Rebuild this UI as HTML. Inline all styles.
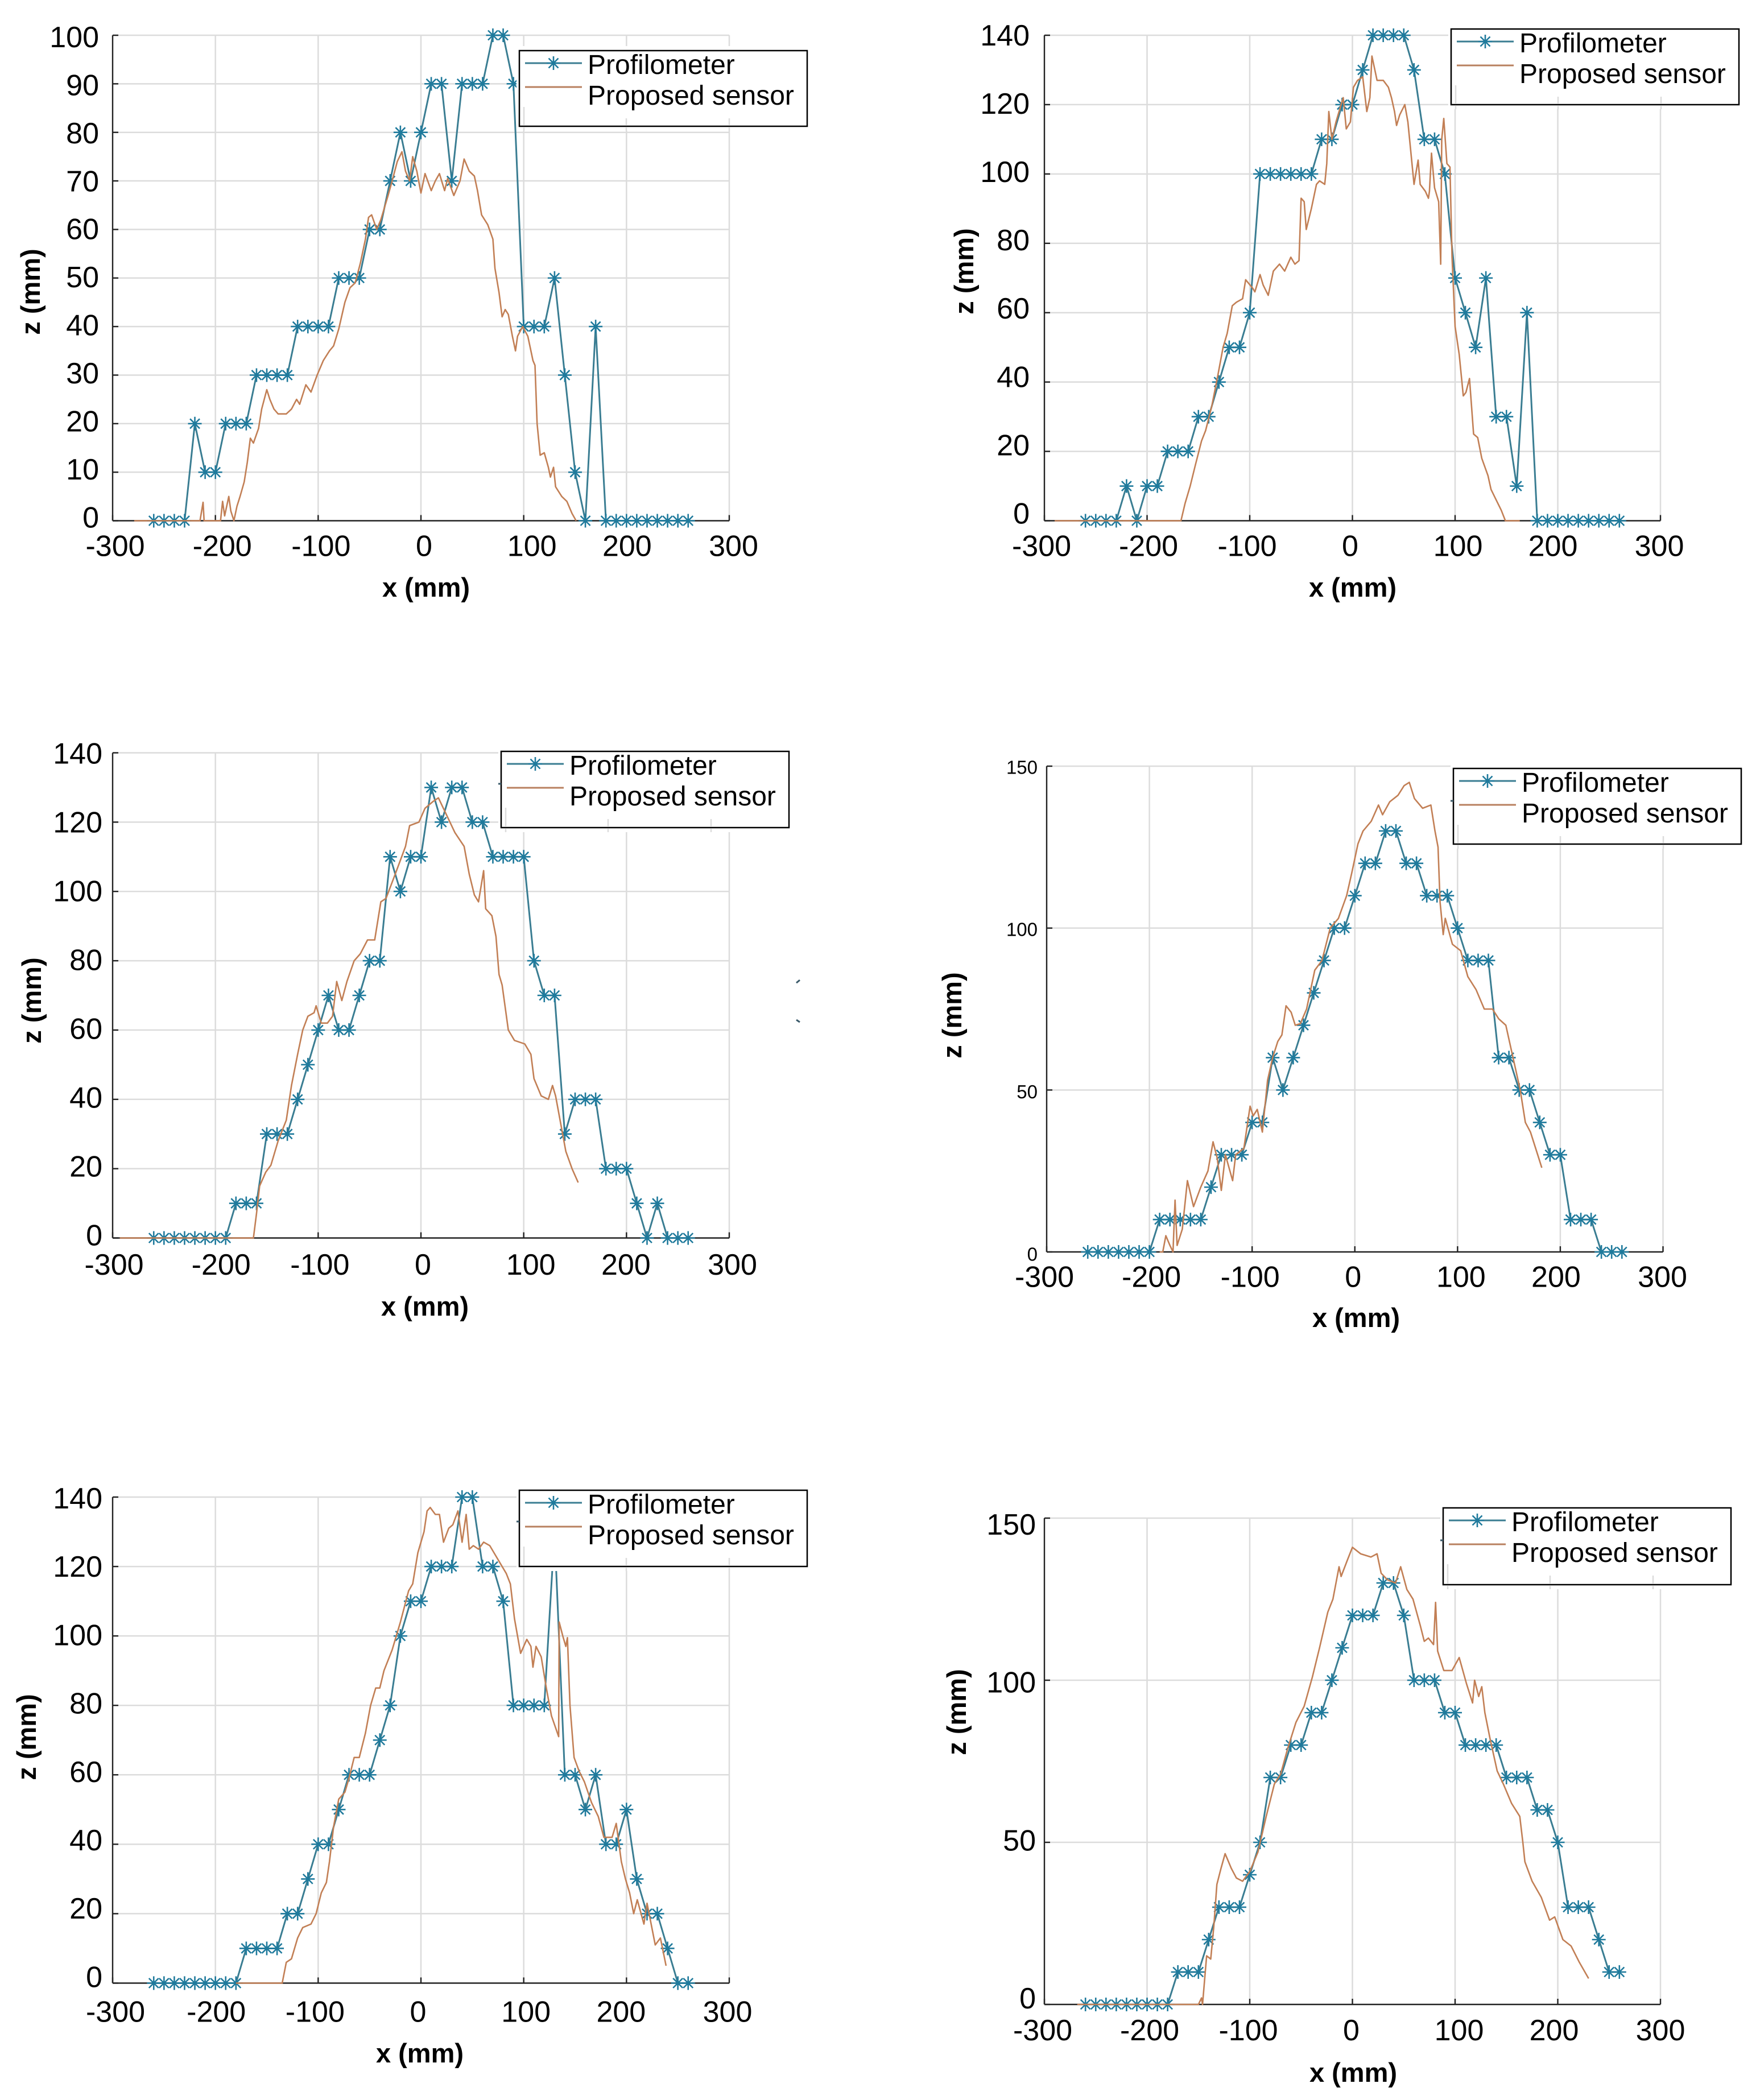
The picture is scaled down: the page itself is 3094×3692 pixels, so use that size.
<!DOCTYPE html>
<html lang="en">
<head>
<meta charset="utf-8">
<title>Profilometer vs proposed sensor height profiles</title>
<style>
html,body{margin:0;padding:0;background:#fff;}
svg{display:block;font-family:"Liberation Sans",sans-serif;}
.axis-title{font-size:47px;font-weight:bold;fill:#000;text-anchor:middle;}
.legend-halo{fill:#fff;stroke:none;}
.legend-box{fill:#fff;stroke:#000;stroke-width:2.5;}
.legend-stub{stroke:#dcdcdc;stroke-width:2.5;fill:none;}
.legend-text{font-size:48px;fill:#000;}
.legend-prof{stroke:#3a7d92;stroke-width:3;fill:none;}
.legend-star{stroke:#1f7a9c;stroke-width:2.6;fill:none;}
.legend-sensor{stroke:#b8805f;stroke-width:3;fill:none;}
.stray-mark{stroke:#3a5a6a;stroke-width:3;fill:none;}
</style>
</head>
<body>
<svg id="figure" xmlns="http://www.w3.org/2000/svg" width="3094" height="3692" viewBox="0 0 3094 3692">
  <rect width="3094" height="3692" fill="#fff"/>

  <g>
    <g id="plot-1"></g>
    <text class="axis-title" x="749" y="1049">x (mm)</text>
    <text class="axis-title" transform="translate(70,513) rotate(-90)">z (mm)</text>
    <g transform="translate(913,89)">
      <rect class="legend-halo" x="-5" y="-8" width="516" height="149"/>
      <rect class="legend-box" width="506" height="133"/>
      <path class="legend-stub" d="M8 99V131.700M188 119V131.700M369 119V131.700M8 134.300V141M188 134.300V141M369 134.300V141"/>
      <path class="legend-prof" d="M10 22H110"/>
      <path class="legend-star" d="M48 22H72M60 10V34M51.500 13.500L68.500 30.500M68.500 13.500L51.500 30.500"/>
      <path class="legend-sensor" d="M10 64H110"/>
      <text class="legend-text" x="120" y="41">Profilometer</text>
      <text class="legend-text" x="120" y="95">Proposed sensor</text>
    </g>
  </g>

  <g>
    <g id="plot-2"></g>
    <text class="axis-title" x="2378" y="1049">x (mm)</text>
    <text class="axis-title" transform="translate(1711,477) rotate(-90)">z (mm)</text>
    <g transform="translate(2551,51)">
      <rect class="legend-halo" x="-5" y="-8" width="516" height="149"/>
      <rect class="legend-box" width="506" height="133"/>
      <path class="legend-stub" d="M8 99V131.700M188 119V131.700M369 119V131.700M8 134.300V141M188 134.300V141M369 134.300V141"/>
      <path class="legend-prof" d="M10 22H110"/>
      <path class="legend-star" d="M48 22H72M60 10V34M51.500 13.500L68.500 30.500M68.500 13.500L51.500 30.500"/>
      <path class="legend-sensor" d="M10 64H110"/>
      <text class="legend-text" x="120" y="41">Profilometer</text>
      <text class="legend-text" x="120" y="95">Proposed sensor</text>
    </g>
  </g>

  <g>
    <g id="plot-3"></g>
    <text class="axis-title" x="747" y="2313">x (mm)</text>
    <text class="axis-title" transform="translate(72,1759) rotate(-90)">z (mm)</text>
    <g transform="translate(881,1321)">
      <rect class="legend-halo" x="-5" y="-8" width="516" height="150"/>
      <rect class="legend-box" width="506" height="134"/>
      <path class="legend-stub" d="M8 99V132.700M188 119V132.700M369 119V132.700M8 135.300V142M188 135.300V142M369 135.300V142"/>
      <path class="stray-mark" d="M-5 57H0"/>
      <path class="legend-prof" d="M10 22H110"/>
      <path class="legend-star" d="M48 22H72M60 10V34M51.500 13.500L68.500 30.500M68.500 13.500L51.500 30.500"/>
      <path class="legend-sensor" d="M10 64H110"/>
      <text class="legend-text" x="120" y="41">Profilometer</text>
      <text class="legend-text" x="120" y="95">Proposed sensor</text>
    </g>
    <path class="stray-mark" d="M1400 1728L1406 1723"/>
    <path class="stray-mark" d="M1400 1793L1406 1797"/>
  </g>

  <g>
    <g id="plot-4"></g>
    <text class="axis-title" x="2384" y="2333">x (mm)</text>
    <text class="axis-title" transform="translate(1690,1785) rotate(-90)">z (mm)</text>
    <g transform="translate(2555,1351)">
      <rect class="legend-halo" x="-5" y="-8" width="516" height="149"/>
      <rect class="legend-box" width="506" height="133"/>
      <path class="legend-stub" d="M8 99V131.700M188 119V131.700M369 119V131.700M8 134.300V141M188 134.300V141M369 134.300V141"/>
      <path class="stray-mark" d="M-5 57H0"/>
      <path class="legend-prof" d="M10 22H110"/>
      <path class="legend-star" d="M48 22H72M60 10V34M51.500 13.500L68.500 30.500M68.500 13.500L51.500 30.500"/>
      <path class="legend-sensor" d="M10 64H110"/>
      <text class="legend-text" x="120" y="41">Profilometer</text>
      <text class="legend-text" x="120" y="95">Proposed sensor</text>
    </g>
  </g>

  <g>
    <g id="plot-5"></g>
    <text class="axis-title" x="738" y="3626">x (mm)</text>
    <text class="axis-title" transform="translate(63,3054) rotate(-90)">z (mm)</text>
    <g transform="translate(913,2620)">
      <rect class="legend-halo" x="-5" y="-8" width="516" height="150"/>
      <rect class="legend-box" width="506" height="134"/>
      <path class="legend-stub" d="M8 99V132.700M188 119V132.700M369 119V132.700M8 135.300V142M188 135.300V142M369 135.300V142"/>
      <path class="stray-mark" d="M-5 55H0"/>
      <path class="legend-prof" d="M10 22H110"/>
      <path class="legend-star" d="M48 22H72M60 10V34M51.500 13.500L68.500 30.500M68.500 13.500L51.500 30.500"/>
      <path class="legend-sensor" d="M10 64H110"/>
      <text class="legend-text" x="120" y="41">Profilometer</text>
      <text class="legend-text" x="120" y="95">Proposed sensor</text>
    </g>
  </g>

  <g>
    <g id="plot-6"></g>
    <text class="axis-title" x="2379" y="3660">x (mm)</text>
    <text class="axis-title" transform="translate(1698,3010) rotate(-90)">z (mm)</text>
    <g transform="translate(2537,2651)">
      <rect class="legend-halo" x="-5" y="-8" width="516" height="151"/>
      <rect class="legend-box" width="506" height="135"/>
      <path class="legend-stub" d="M8 99V133.700M188 119V133.700M369 119V133.700M8 136.300V143M188 136.300V143M369 136.300V143"/>
      <path class="stray-mark" d="M-5 57H0"/>
      <path class="legend-prof" d="M10 22H110"/>
      <path class="legend-star" d="M48 22H72M60 10V34M51.500 13.500L68.500 30.500M68.500 13.500L51.500 30.500"/>
      <path class="legend-sensor" d="M10 64H110"/>
      <text class="legend-text" x="120" y="41">Profilometer</text>
      <text class="legend-text" x="120" y="95">Proposed sensor</text>
    </g>
  </g>
</svg>

<script>
// ---------- data (mm) ----------
const xTickValues = [-300,-200,-100,0,100,200,300];
const xTickLabels = ['-300','-200','-100','0','100','200','300'];
const zTicks100 = [0,10,20,30,40,50,60,70,80,90,100];
const zTicks140 = [0,20,40,60,80,100,120,140];
const zTicks150 = [0,50,100,150];

const profX = [-260,-250,-240,-230,-220,-210,-200,-190,-180,-170,-160,-150,-140,-130,-120,-110,-100,-90,-80,-70,-60,-50,-40,-30,-20,-10,0,10,20,30,40,50,60,70,80,90,100,110,120,130,140,150,160,170,180,190,200,210,220,230,240,250,260];

const prof1 = [0,0,0,0,20,10,10,20,20,20,30,30,30,30,40,40,40,40,50,50,50,60,60,70,80,70,80,90,90,70,90,90,90,100,100,90,40,40,40,50,30,10,0,40,0,0,0,0,0,0,0,0,0];
const prof2 = [0,0,0,0,10,0,10,10,20,20,20,30,30,40,50,50,60,100,100,100,100,100,100,110,110,120,120,130,140,140,140,140,130,110,110,100,70,60,50,70,30,30,10,60,0,0,0,0,0,0,0,0,0];
const prof3 = [0,0,0,0,0,0,0,0,10,10,10,30,30,30,40,50,60,70,60,60,70,80,80,110,100,110,110,130,120,130,130,120,120,110,110,110,110,80,70,70,30,40,40,40,20,20,20,10,0,10,0,0,0];
const prof4 = [0,0,0,0,0,0,0,10,10,10,10,10,20,30,30,30,40,40,60,50,60,70,80,90,100,100,110,120,120,130,130,120,120,110,110,110,100,90,90,90,60,60,50,50,40,30,30,10,10,10,0,0,0];
const prof5 = [0,0,0,0,0,0,0,0,0,10,10,10,10,20,20,30,40,40,50,60,60,60,70,80,100,110,110,120,120,120,140,140,120,120,110,80,80,80,80,130,60,60,50,60,40,40,50,30,20,20,10,0,0];
const prof6 = [0,0,0,0,0,0,0,0,0,10,10,10,20,30,30,30,40,50,70,70,80,80,90,90,100,110,120,120,120,130,130,120,100,100,100,90,90,80,80,80,80,70,70,70,60,60,50,30,30,30,20,10,10];

const sensor1X = [-279,-215,-212,-211,-195,-193,-191,-187,-185,-182,-179,-176,-172,-169,-166,-163,-158,-155,-150,-147,-143,-139,-131,-126,-121,-118,-112,-107,-101,-95,-89,-85,-80,-74,-69,-64,-59,-54,-51,-48,-43,-39,-32,-28,-23,-18.500,-15,-11,-8,-4,0,4,10,14,18,23,26,32,38,42,47,52,55,59,65,70,72,76,79,82,85,89,92,94,99,104,109,111,113,116,120,124,126,129,131,137,142,147,151];
const sensor1Z = [0,0,3.800,0,0,4,1,5,2,0,3,5,8,12,17,16,19,23,27,25,23,22,22,23,25,24,28,26.500,30,33,35,36,39.500,45,48,49,53,58,62.500,63,60,62,67,70,74,76,72,70,75,72,67.500,71.500,68,70,71.500,68,70.500,67,70,74.500,72,71,68,63,61,58,52,47,42,43.500,42.500,38,35,38,40,38,33,32,20,13.500,14,11,9,11,7,5,4,1.500,0];

const sensor2X = [-290,-167,-163,-158,-153,-147,-143,-137,-131,-126,-122,-117,-113,-107,-104,-97,-95,-90,-87,-82,-77,-71,-66,-60,-56,-52,-50,-47,-45,-40,-35,-32,-27,-25,-23,-20,-16,-12,-9,-6,-2,1,5,10,14,17,19,24,30,35,38,41,43,46,51,54,58,60,64,66,71,74,75,77,80,84,86,87,89,92,95,97,100,104,108,110.500,114,118,122,126,132,135,140,145,149,163];
const sensor2Z = [0,0,5,10,16,23,26,33,42,50,54,62,63,64,69.500,67,66,71,68,65,72,74,72,76,74,75,93,92,84,90,97,98,97,103,118,110,115,119,122,113,115,125,127,128,118,122,134,127,127,125,122,118,114,117,120,115,103,97,104,97,95,93,95,106,96,92,74,110,116,103,102,76,56,48,36,37,41,25,24,18,13,9,6,3,0,0];

const sensor3X = [-293,-163,-160,-157,-151,-146,-139,-131,-126,-120,-115,-110,-104,-102,-97,-91,-86,-82,-77,-72,-65,-59,-52,-45,-39,-34,-25,-15,-11,-2,4,12,17,25,33,42,47,52,56,61,63,69,73,76,79,85,91,101,107,110,117,124,128,131,136,141,147,153];
const sensor3Z = [0,0,7,15,19,21,28,34,44,53,60,64,65,67,62,62,64,74,68.500,74,80,82,86,86,97,98,105,113,119,120,124,126,127,122,117,113,105,99,97,106,95,93,87,76,73,60,57,56,53,46,41,40,44,41,33,25,20,16];

const sensor4X = [-190,-187,-184,-180,-177,-175,-173,-168,-163,-157,-150,-143,-138,-134,-130,-126,-119,-116,-108,-102,-99,-95,-90,-85,-80,-75,-71,-67,-62,-58,-53,-47,-39,-32,-24,-16,-8,-3,3,8,16,23,27,34,42,48,53,58,66,74,78,81,83,86,88,95,103,110,118,126,134,140,147,154,161,166,171,178,182];
const sensor4Z = [0,0,5,2,0,16,2,7,22,14,20,25,34,29,19,30,22,30,32,45,42,44,37,53,60,65,67,76,74,70,70.500,75,87,90,100,103,110,117,126,130,133,138,135,139,141,144,145,140,137,138,130,125,108,98,103,95,93,85,81,75,75,72,70,60,50,40,37,30,26];

const sensor5X = [-180,-135,-131,-126,-120,-115,-107,-102,-97,-92,-89,-85,-80,-74,-70,-65,-60,-54,-49,-44,-40,-36,-28,-20,-12,-8,-3,3,6,9,14,18,22,27,31,36,40,44,47,51,56,61,67,75,83,87,91,94,97,103,107,109,112,117,122,127,134,134.500,138,141,142.500,145,149,154,159,166,172.500,178,186,190,195,199,203,207,210.500,217,220,228,233,238.500];
const sensor5Z = [0,0,6,7,13,16,17,20,26,29,35,45,53,55,59,65,65,72,80,85,85,90,96,104,113,115,124,130,136,137,135,135,127,131,132,136,127,135,125,126,125,127,126,122,118,115,105,100,95,99,97,91,97,94,85,77,71,104,100,97,99.500,80,65,61,58,52,48,42,42,46,35,30,26,20,24,17,23,11,13,5];

const sensor6X = [-268,-150,-147,-146,-142,-138,-135,-132,-128,-124,-118,-113,-107,-100,-92,-84,-76,-70,-63,-55,-47,-39,-32,-24,-19,-16,-13,-11,-5,0,8,18,24,28,34,42,47,53,59,66,70,74,79,81,83,89,97,104,111,117,119,123,126,129,134,141,147,155,163,166,168,175,184,192,197,205,213,221,230];
const sensor6Z = [0,0,2,0,15,14,24,37,42,46.500,42,39,38,41,47,58,68,71,79,87,92,101,110,121,125,130,135,132,137,141,139,138,139,133,131,130,135,128,125,117,112,113,111,124,109,103,103,107,99,93,100,95,98,90,82,72,68,62,58,50,44,38,33,26,27,20,18,13,8];

// ---------- layout ----------
const panels = [
  {n:1, left:198,  right:1282, top:62,   bottom:915.5,  zTicks:zTicks100, prof:prof1, sx:sensor1X, sz:sensor1Z, labelDx:9.5, tickLabelDy:62,   zRight:24, zShiftTop:3,  zShiftBottom:-6,  zFont:52, firstLabelExtra:0},
  {n:2, left:1836, right:2919, top:62,   bottom:915.5,  zTicks:zTicks140, prof:prof2, sx:sensor2X, sz:sensor2Z, labelDx:0,   tickLabelDy:62,   zRight:26, zShiftTop:0,  zShiftBottom:-13, zFont:52, firstLabelExtra:0},
  {n:3, left:198,  right:1282, top:1323.5,bottom:2176.5,zTicks:zTicks140, prof:prof3, sx:sensor3X, sz:sensor3Z, labelDx:7.5, tickLabelDy:64.5, zRight:18, zShiftTop:1,  zShiftBottom:-5,  zFont:52, firstLabelExtra:0},
  {n:4, left:1840, right:2923.5,top:1347,bottom:2201,   zTicks:zTicks150, prof:prof4, sx:sensor4X, sz:sensor4Z, labelDx:1,   tickLabelDy:61.5, zRight:16, zShiftTop:2,  zShiftBottom:4,   zFont:33, firstLabelExtra:0},
  {n:5, left:198,  right:1282, top:2632, bottom:3486.5, zTicks:zTicks140, prof:prof5, sx:sensor5X, sz:sensor5Z, labelDx:-1,  tickLabelDy:68,   zRight:18, zShiftTop:2,  zShiftBottom:-11, zFont:52, firstLabelExtra:11},
  {n:6, left:1836, right:2919, top:2669, bottom:3524,   zTicks:zTicks150, prof:prof6, sx:sensor6X, sz:sensor6Z, labelDx:2,   tickLabelDy:63,   zRight:15, zShiftTop:11, zShiftBottom:-11, zFont:52, firstLabelExtra:0}
];
const xLabelNudge = {'-300':-5,'-200':2.5,'-100':-4.5,'0':-4,'100':5,'200':-8.5,'300':-2};
const SVGNS = 'http://www.w3.org/2000/svg';

function make(parent, tag, attrs, text) {
  const el = document.createElementNS(SVGNS, tag);
  for (const k in attrs) el.setAttribute(k, attrs[k]);
  if (text !== undefined) el.textContent = text;
  parent.appendChild(el);
  return el;
}
function linear(d0, d1, r0, r1) {
  return v => r0 + (v - d0) * (r1 - r0) / (d1 - d0);
}
function linePath(xs, ys, xScale, zScale) {
  return xs.map((v, i) => (i ? 'L' : 'M') + xScale(v).toFixed(1) + ' ' + zScale(ys[i]).toFixed(1)).join('');
}
function starPath(cx, cy) {
  const a = 12, d = 8.5;
  return 'M' + (cx - a) + ' ' + cy + 'H' + (cx + a) +
         'M' + cx + ' ' + (cy - a) + 'V' + (cy + a) +
         'M' + (cx - d) + ' ' + (cy - d) + 'L' + (cx + d) + ' ' + (cy + d) +
         'M' + (cx + d) + ' ' + (cy - d) + 'L' + (cx - d) + ' ' + (cy + d);
}

function drawPanel(p) {
  const root = document.getElementById('plot-' + p.n);
  const zMax = p.zTicks[p.zTicks.length - 1];
  const xScale = linear(-300, 300, p.left, p.right);
  const zScale = linear(0, zMax, p.bottom, p.top);

  // gridlines
  const grid = make(root, 'g', {stroke:'#dcdcdc', 'stroke-width':2.5, fill:'none'});
  
  
  xTickValues.forEach(v => {
    if (v === -300) return;
    const line = make(grid, 'line', {x1:xScale(v), x2:xScale(v), y1:p.top, y2:p.bottom});
    
    
  });
  p.zTicks.forEach(v => {
    if (v === 0) return;
    const line = make(grid, 'line', {x1:p.left, x2:p.right, y1:zScale(v), y2:zScale(v)});
    
    
  });

  // axes and ticks
  const axes = make(root, 'g', {stroke:'#222', 'stroke-width':2.4, fill:'none'});
  
  
  const xAxis = make(axes, 'line', {x1:p.left, x2:p.right, y1:p.bottom, y2:p.bottom});
  
  
  const zAxis = make(axes, 'line', {x1:p.left, x2:p.left, y1:p.top, y2:p.bottom});
  
  
  xTickValues.forEach(v => {
    const tick = make(axes, 'line', {x1:xScale(v), x2:xScale(v), y1:p.bottom, y2:p.bottom - 10});
    
    
  });
  p.zTicks.forEach(v => {
    const tick = make(axes, 'line', {x1:p.left, x2:p.left + 10, y1:zScale(v), y2:zScale(v)});
    
    
  });

  // tick labels
  const labels = make(root, 'g', {fill:'#000'});
  
  
  xTickValues.forEach((v, i) => {
    const extra = i === 0 ? p.firstLabelExtra : 0;
    const t = make(labels, 'text', {
      x: xScale(v) + xLabelNudge[xTickLabels[i]] + p.labelDx + extra,
      y: p.bottom + p.tickLabelDy,
      'text-anchor': 'middle',
      'font-size': 52
    }, xTickLabels[i]);
    
    
  });
  p.zTicks.forEach(v => {
    const f = v / zMax;
    const shift = p.zShiftBottom + (p.zShiftTop - p.zShiftBottom) * f;
    const t = make(labels, 'text', {
      x: p.left - p.zRight,
      y: zScale(v) + shift + p.zFont * 0.345,
      'text-anchor': 'end',
      'font-size': p.zFont
    }, String(v));
    
    
  });

  // profilometer series
  const profLine = make(root, 'path', {
    d: linePath(profX, p.prof, xScale, zScale),
    fill: 'none', stroke: '#3a7d92', 'stroke-width': 3, 'stroke-linejoin': 'round'
  });
  
  
  const stars = make(root, 'g', {stroke:'#1f7a9c', 'stroke-width':2.6, fill:'none'});
  
  
  profX.forEach((v, i) => {
    const star = make(stars, 'path', {d: starPath(xScale(v), zScale(p.prof[i]))});
    
    
  });

  // proposed sensor series
  const sensorLine = make(root, 'path', {
    d: linePath(p.sx, p.sz, xScale, zScale),
    fill: 'none', stroke: '#c27f55', 'stroke-width': 2.6, 'stroke-linejoin': 'round'
  });
  
  
}
panels.forEach(drawPanel);
</script>
</body>
</html>
